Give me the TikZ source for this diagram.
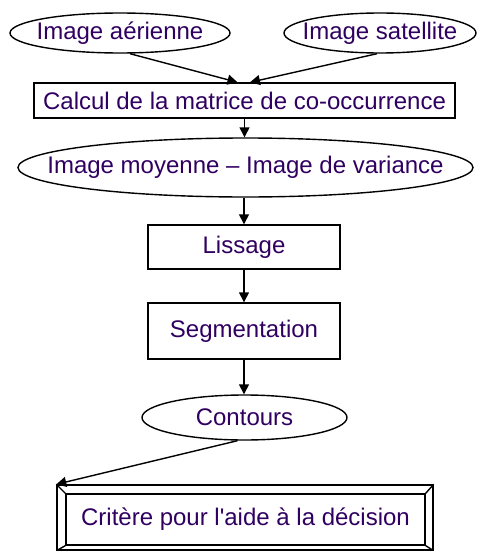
\documentclass[tikz,border=0pt]{standalone}
\usepackage{fontspec}
\setmainfont{Liberation Sans}
\usetikzlibrary{shapes.geometric,arrows.meta}
\definecolor{txt}{RGB}{48,0,96}
\begin{document}
\begin{tikzpicture}[x=1pt,y=-1pt,
  every node/.style={font=\fontsize{24}{28}\selectfont, text=txt, line width=1.4pt, draw=black, inner sep=0pt},
  ell/.style={ellipse},
  box/.style={rectangle},
  arr/.style={line width=1.4pt, -{Triangle[length=10pt,width=10pt]}}]
\useasboundingbox (0,0) rectangle (478,551);
\node[ell, minimum width=220pt, minimum height=40pt] (e1) at (120,33) {\makebox[0pt]{Image aérienne}};
\node[ell, minimum width=192pt, minimum height=40pt] (e2) at (380,33) {\makebox[0pt]{Image satellite}};
\node[box, minimum width=421pt, minimum height=35pt] (calc) at (244.5,100.5) {Calcul de la matrice de co-occurrence};
\node[ell, minimum width=455pt, minimum height=59pt] (moy) at (245.5,167.5) {\makebox[0pt]{Image moyenne – Image de variance}};
\node[box, minimum width=192pt, minimum height=44pt] (liss) at (244,247) {Lissage};
\node[box, minimum width=192pt, minimum height=56pt] (seg) at (244,331) {Segmentation};
\node[ell, minimum width=205pt, minimum height=45pt] (cont) at (244.5,417.5) {\makebox[0pt]{Contours}};
\node[box, minimum width=376pt, minimum height=65pt] (critout) at (245,517.5) {};
\node[box, minimum width=359pt, minimum height=51pt] (crit) at (245.5,519.5) {Critère pour l\textquotesingle aide à la décision};
\draw[line width=1.4pt] (critout.north west) -- (crit.north west)
  (critout.north east) -- (crit.north east)
  (critout.south west) -- (crit.south west)
  (critout.south east) -- (crit.south east);
\draw[arr] ([xshift=10pt]e1.south) -- ([xshift=-7pt]calc.north);
\draw[arr] ([xshift=-3pt]e2.south) -- ([xshift=5.5pt]calc.north);
\draw[arr] (calc.south) -- (calc.south |- moy.north);
\draw[arr] (liss.north |- moy.south) -- (liss.north);
\draw[arr] (liss.south) -- (seg.north);
\draw[arr] (seg.south) -- (seg.south |- cont.north);
\draw[arr] ([xshift=-7pt]cont.south) -- (critout.north west);
\end{tikzpicture}
\end{document}
